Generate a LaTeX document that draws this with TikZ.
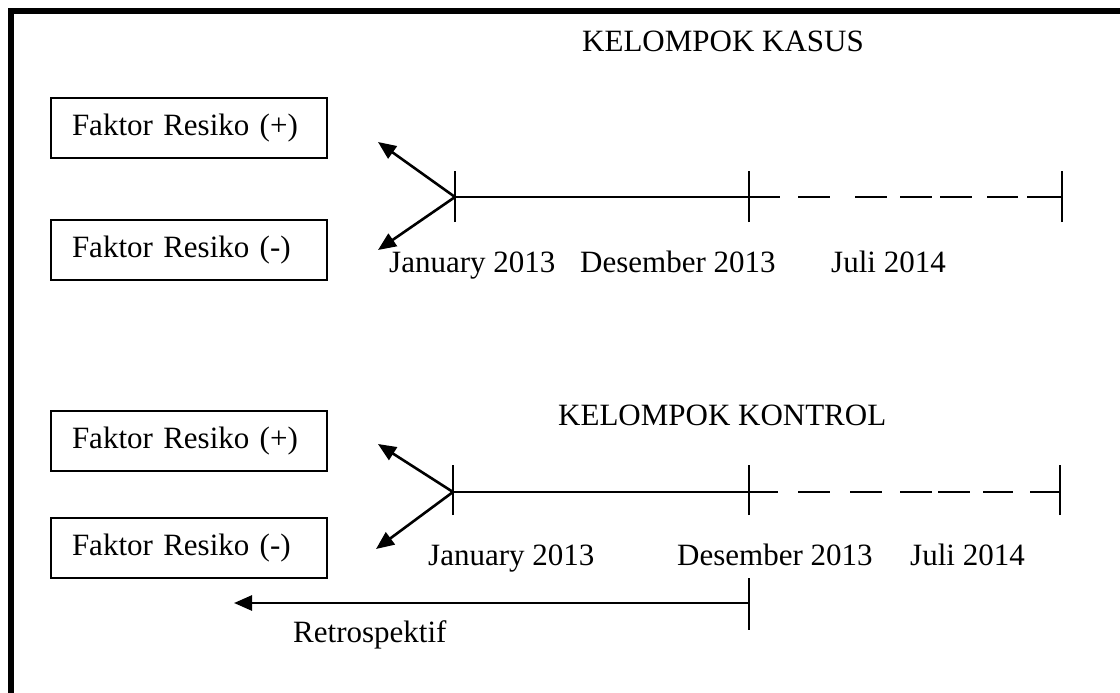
\documentclass[tikz,border=0pt]{standalone}
\usepackage{fontspec}
\setmainfont{Liberation Serif}
\usetikzlibrary{arrows.meta}
\begin{document}
\begin{tikzpicture}[x=1pt,y=-1pt,
  every node/.style={font=\fontsize{31}{36}\selectfont},
  factorbox/.style={draw,line width=1.6pt,minimum height=60pt,text width=234pt,
    inner xsep=21pt,align=left},
  label/.style={anchor=base west,inner sep=0pt},
  axis/.style={line width=2.6pt},
  tick/.style={line width=2.4pt},
  branch/.style={line width=2.6pt,-{Triangle[length=18pt,width=15pt]}},
  frame/.style={line width=6pt,line join=miter}]
\useasboundingbox (0,0) rectangle (1120,693);
% frame: left and top edges
\draw[frame] (11,693) -- (11,11) -- (1120,11);

% ---------------- case group ----------------
\node[label] (tk) at (582,52) {KELOMPOK KASUS};
\node[factorbox] (ap) at (189,128) {Faktor Resiko (+)};
\node[factorbox] (am) at (189,250) {Faktor Resiko (-)};
\coordinate (a0) at (455,197);
\coordinate (a1) at (749,197);
\coordinate (a2) at (1062,197);
\coordinate (au) at (378,142);
\coordinate (ad) at (378,250);
\draw[axis] (a0) -- (a1) -- (780,197);
\foreach \s/\e in {798/830,855/887,900/932,940/972,987/1018,1027/1062}
  \draw[axis] (\s,197) -- (\e,197);
\foreach \c in {a0,a1,a2} \draw[tick] ([yshift=-25pt]\c) -- ([yshift=26pt]\c);
\draw[branch] (a0) -- (au);
\draw[branch] (a0) -- (ad);
\node[label] (ja) at (389,272) {January 2013};
\node[label] (da) at (580,272) {Desember 2013};
\node[label] (la) at (831,272) {Juli 2014};

% ---------------- control group ----------------
\node[label] (kk) at (558,425) {KELOMPOK KONTROL};
\node[factorbox] (bp) at (189,441) {Faktor Resiko (+)};
\node[factorbox] (bm) at (189,548) {Faktor Resiko (-)};
\coordinate (b0) at (453,492);
\coordinate (b1) at (749,492);
\coordinate (b2) at (1060,492);
\coordinate (bu) at (378,444);
\coordinate (bd) at (376,549);
\draw[axis] (b0) -- (b1) -- (778,492);
\foreach \s/\e in {798/830,850/882,900/932,938/970,983/1013,1030/1060}
  \draw[axis] (\s,492) -- (\e,492);
\foreach \c in {b0,b1,b2} \draw[tick] ([yshift=-23pt]\c) -- ([yshift=27pt]\c);
\draw[branch] (b0) -- (bu);
\draw[branch] (b0) -- (bd);
\node[label] (jb) at (428,565) {January 2013};
\node[label] (db) at (677,565) {Desember 2013};
\node[label] (lb) at (910,565) {Juli 2014};

% retrospective direction
\coordinate (r0) at (749,603);
\coordinate (r1) at (234,603);
\draw[tick] (749,578) -- (749,630);
\draw[branch] (r0) -- (r1);
\node[label] (rt) at (293,642) {Retrospektif};
\end{tikzpicture}
\end{document}
